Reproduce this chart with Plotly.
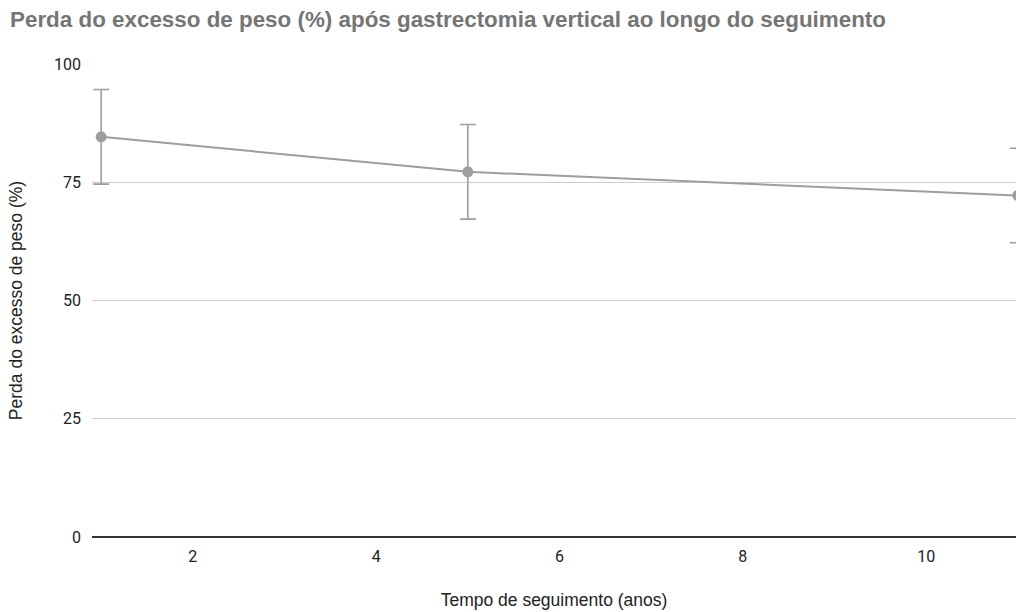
import plotly.graph_objects as go

anos = [1, 5, 11]
perda = [84.6, 77.2, 72.2]
erro = [10, 10, 10]
y_ticks = [0, 25, 50, 75, 100]
x_ticks = [2, 4, 6, 8, 10]

W, H = 1016, 612

fig = go.Figure()
fig.add_trace(go.Scatter(
    x=anos, y=perda, mode="lines+markers",
    line=dict(color="#9e9e9e", width=2),
    marker=dict(color="#9e9e9e", size=11),
    error_y=dict(type="data", array=erro, visible=True, color="#9e9e9e", thickness=1.6, width=8),
    showlegend=False,
))

fig.update_layout(
    width=W, height=H,
    paper_bgcolor="white", plot_bgcolor="white",
    margin=dict(l=92, r=0, t=64, b=75),
    title=dict(text="<b>Perda do excesso de peso (%) após gastrectomia vertical ao longo do seguimento</b>",
               xref="container", yref="container",
               x=10 / W, xanchor="left", y=1 - 19 / H, yanchor="middle",
               font=dict(family="Liberation Sans, Arial", size=22.4, color="#757575")),
    font=dict(family="Roboto, Arial", size=16, color="#222222"),
    xaxis=dict(range=[0.9, 10.98], tickvals=x_ticks, showgrid=False, zeroline=False,
               showline=False, ticks="", ticklabelstandoff=8,
               title=dict(text="Tempo de seguimento (anos)",
                          font=dict(family="Liberation Sans, Arial", size=17.5, color="#222"), standoff=28)),
    yaxis=dict(range=[0, 100], tickvals=y_ticks, showgrid=True, gridcolor="#cccccc", gridwidth=1,
               zeroline=True, zerolinecolor="#333333", zerolinewidth=1.5, ticks="", ticklabelstandoff=10,
               title=dict(text="Perda do excesso de peso (%)",
                          font=dict(family="Liberation Sans, Arial", size=17.5, color="#222"), standoff=26)),
)

fig.write_html(
    "out.html",
    config={"displayModeBar": False},
    post_script="document.body.style.margin='0';document.body.style.overflow='hidden';",
)
